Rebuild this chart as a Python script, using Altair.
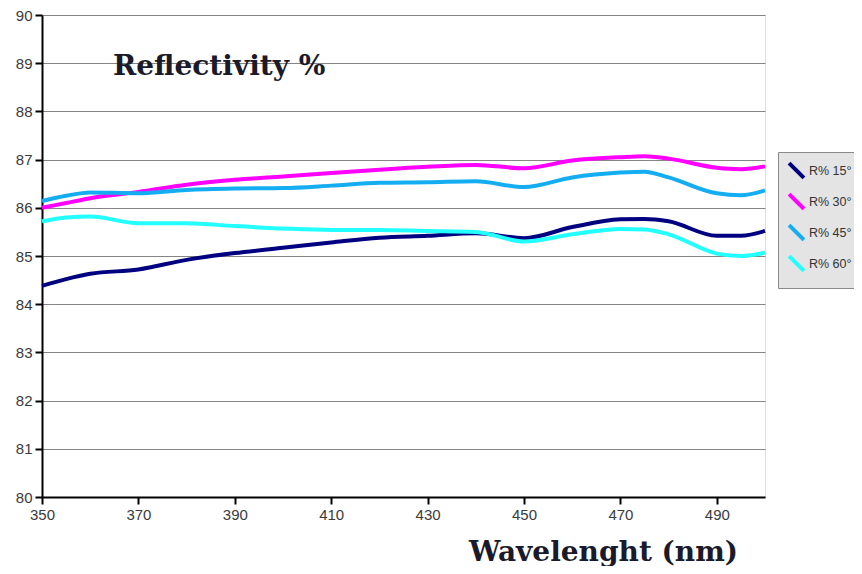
import altair as alt
import pandas as pd

wavelengths = [350, 355, 360, 370, 380, 390, 400, 410, 420, 430, 440, 450, 460, 470, 475, 480, 490, 495, 500]
r15 = [84.38, 84.52, 84.63, 84.72, 84.92, 85.06, 85.17, 85.28, 85.38, 85.42, 85.47, 85.37, 85.60, 85.76, 85.77, 85.72, 85.42, 85.42, 85.52]
r30 = [86.00, 86.10, 86.20, 86.33, 86.48, 86.58, 86.65, 86.72, 86.79, 86.85, 86.89, 86.82, 86.98, 87.05, 87.07, 87.02, 86.83, 86.80, 86.86]
r45 = [86.14, 86.25, 86.32, 86.30, 86.37, 86.40, 86.41, 86.46, 86.52, 86.53, 86.55, 86.43, 86.63, 86.73, 86.75, 86.63, 86.30, 86.26, 86.36]
r60 = [85.72, 85.80, 85.82, 85.68, 85.68, 85.62, 85.57, 85.54, 85.54, 85.52, 85.50, 85.30, 85.45, 85.56, 85.55, 85.45, 85.05, 85.00, 85.07]
series_names = ["R% 15°", "R% 30°", "R% 45°", "R% 60°"]
series_colors = ["#000080", "#ff00ff", "#14adf2", "#22ffff"]
x_ticks = [350, 370, 390, 410, 430, 450, 470, 490]
y_ticks = [80, 81, 82, 83, 84, 85, 86, 87, 88, 89, 90]

rows = []
for name, vals in zip(series_names, [r15, r30, r45, r60]):
    for w, v in zip(wavelengths, vals):
        rows.append({"wl": w, "r": v, "series": name})
df = pd.DataFrame(rows)

axis_common = dict(
    domainColor="#000000", domainWidth=2, tickColor="#000000", tickWidth=2, tickSize=7,
    labelFont="Liberation Sans", labelFontSize=15, labelColor="#3a3a3a", labelPadding=3,
)

lines = alt.Chart(df).mark_line(strokeWidth=4, interpolate="monotone").encode(
    x=alt.X("wl:Q", scale=alt.Scale(domain=[350, 500], nice=False, zero=False),
            axis=alt.Axis(values=x_ticks, title="Wavelenght (nm)", grid=False,
                          titleFont="DejaVu Serif", titleFontSize=28, titleFontWeight="bold",
                          titleColor="#1a1a2a", titleX=561, titleY=63, titleAlign="center",
                          titleBaseline="alphabetic", labelFlush=False, **axis_common)),
    y=alt.Y("r:Q", scale=alt.Scale(domain=[80, 90], nice=False, zero=False),
            axis=alt.Axis(values=y_ticks, title=None, grid=True, gridColor="#858585",
                          gridWidth=1, labelFlush=False, **axis_common)),
    color=alt.Color("series:N", scale=alt.Scale(domain=series_names, range=series_colors),
                    legend=alt.Legend(title=None, orient="none", legendX=736, legendY=137,
                                      fillColor="#e4e4e4", strokeColor="#8a8a8a",
                                      padding=9, symbolType="M-1,-1L1,1", symbolSize=220,
                                      symbolStrokeWidth=4, rowPadding=0,
                                      labelFont="Liberation Sans", labelFontSize=12.5,
                                      labelColor="#333333", labelOffset=3)),
)

title_text = alt.Chart(pd.DataFrame({"t": ["Reflectivity %"]})).mark_text(
    font="DejaVu Serif", fontSize=28, fontWeight="bold", align="left",
    baseline="middle", color="#1a1a2a"
).encode(text="t:N", x=alt.value(71), y=alt.value(52))

chart = alt.layer(lines, title_text).properties(
    width=723, height=482,
    autosize=alt.AutoSizeParams(type="none"),
    padding={"left": 34, "top": 7, "right": 89, "bottom": 69},
).configure_view(
    fill="#e4e4e4", stroke="#8a8a8a", strokeWidth=1.5
).configure(background="white")

chart.save("out.html", embed_options={"renderer": "svg", "actions": False})
